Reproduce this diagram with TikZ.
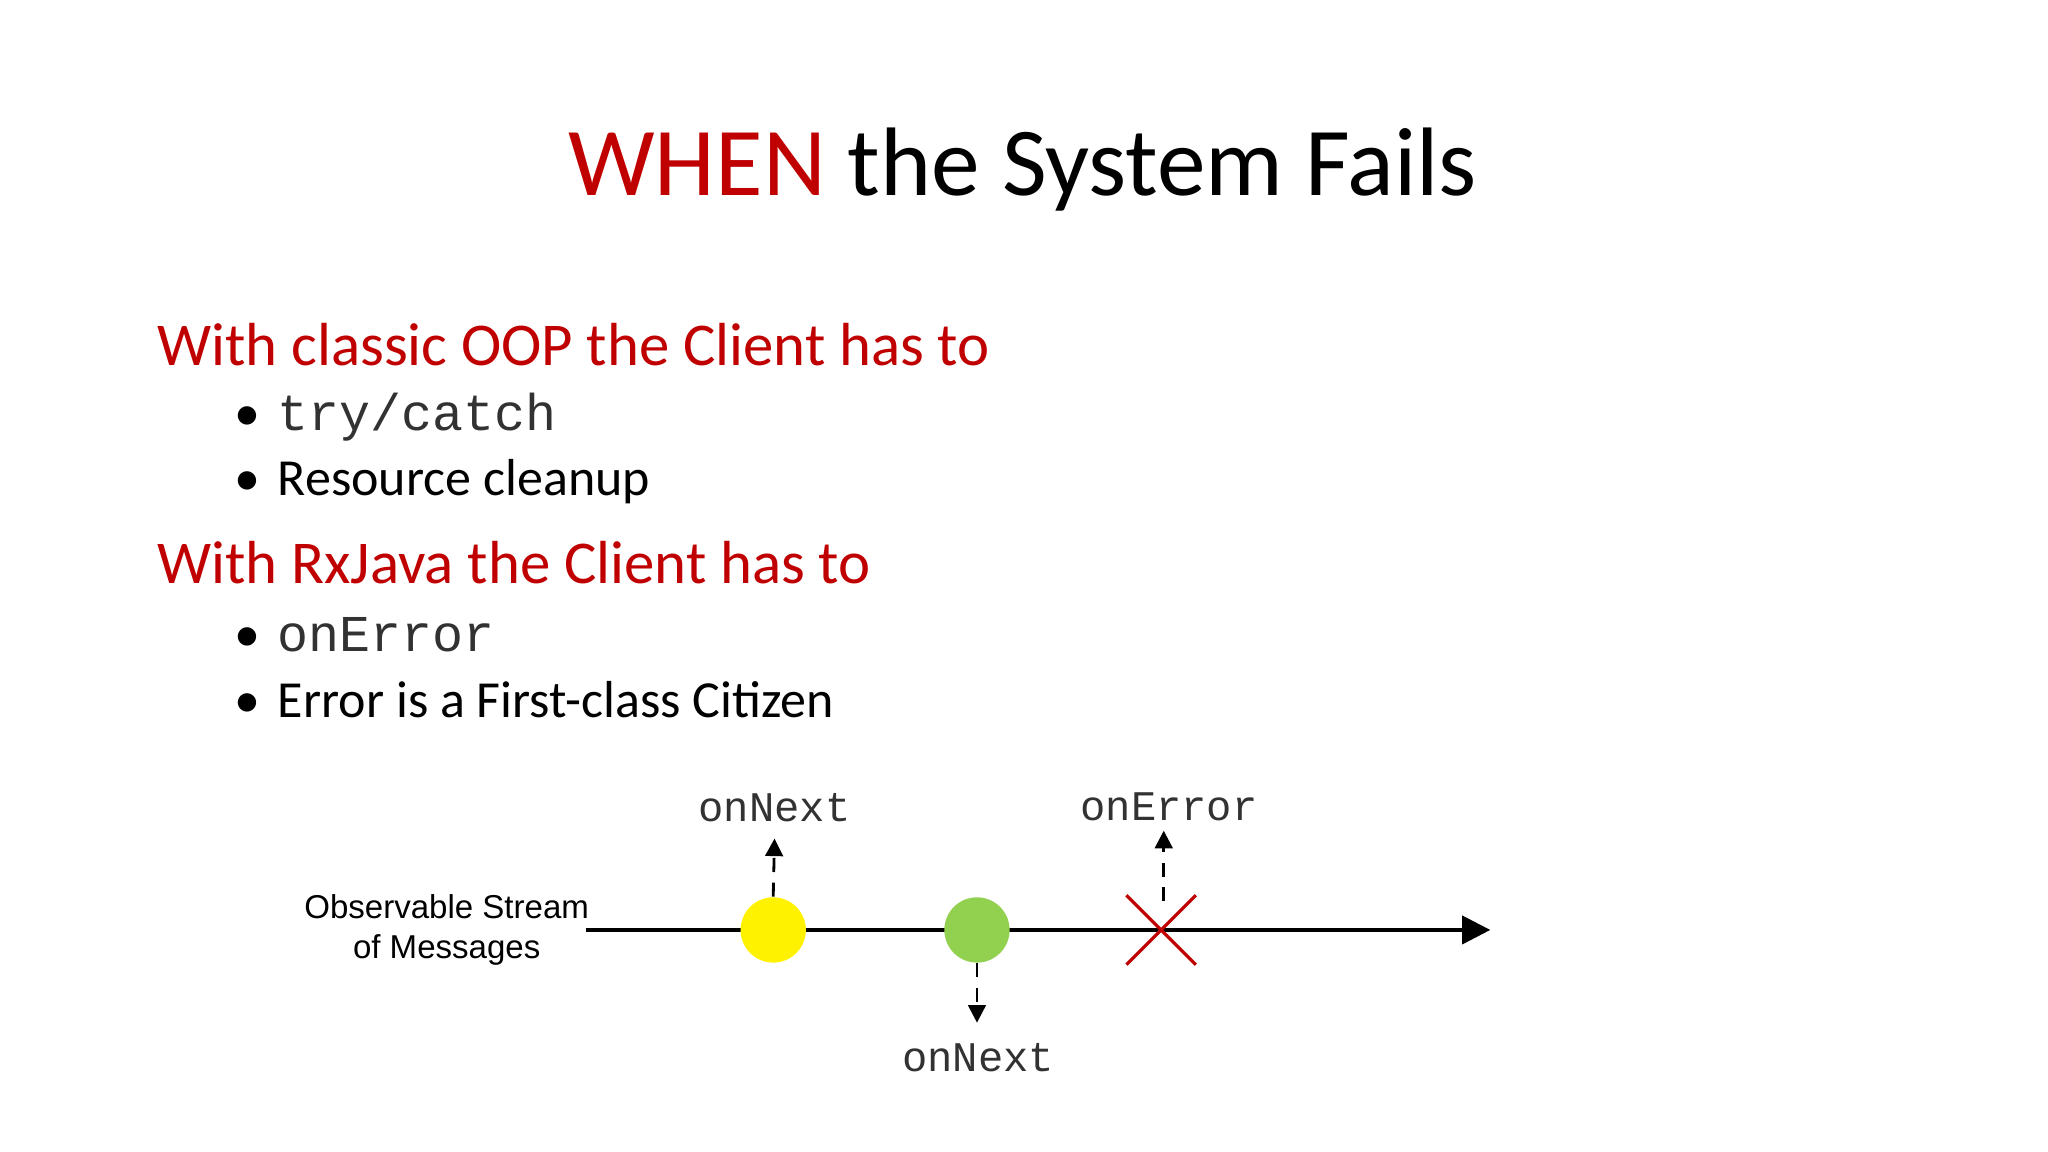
\documentclass[tikz,border=0pt]{standalone}
\usepackage{fontspec}
\setmainfont{Carlito}
\setmonofont{Liberation Mono}
\newfontfamily\arialf{Liberation Sans}
\usetikzlibrary{arrows.meta}
\definecolor{slred}{RGB}{192,0,0}
\definecolor{monog}{RGB}{50,50,50}
\tikzset{
  head/.style={anchor=west,text=slred,font=\fontsize{17.3}{20}\selectfont,inner sep=0},
  bul/.style={anchor=west,font=\fontsize{14.8}{18}\selectfont,inner sep=0},
  dlab/.style={font=\ttfamily\fontsize{12}{14}\selectfont,text=monog,inner sep=0},
  dasharrow/.style={dashed,dash pattern=on 4pt off 3pt,line width=0.8pt,-{Triangle[length=5pt,width=5pt]}},
}
\begin{document}
\begin{tikzpicture}[x=0.013061cm,y=-0.013061cm]
\fill[white] (0,0) rectangle (1568,882);
\useasboundingbox (0,0) rectangle (1568,882);
\node[font=\fontsize{27.7}{32}\selectfont,inner sep=0] (title) at (783,130) {\textcolor{slred}{WHEN} the System Fails};
\node[head] (h1) at (120,264) {With classic OOP the Client has to};
\node[bul] (b1) at (179,319) {•\hspace{5pt}{\ttfamily\fontsize{14.7}{18}\selectfont\color{monog}try/catch}};
\node[bul] (b2) at (179,369) {•\hspace{5pt}Resource cleanup};
\node[head] (h2) at (120,431) {With RxJava the Client has to};
\node[bul] (b3) at (179,486) {•\hspace{5pt}{\ttfamily\fontsize{14.7}{18}\selectfont\color{monog}onError}};
\node[bul] (b4) at (179,536) {•\hspace{5pt}Error is a First-class Citizen};
% diagram
\node[font=\arialf\fontsize{9.4}{11.5}\selectfont,align=center,inner sep=0] (obs) at (342,712) {Observable Stream\\ of Messages};
\coordinate (ls) at (449,712);
\coordinate (le) at (1141,712);
\draw[line width=1pt,-{Triangle[length=8pt,width=8pt]}] (ls) -- (le);
\node[circle,fill=yellow,inner sep=0,minimum size=0.653cm] (y) at (592,712) {};
\node[circle,fill={rgb,255:red,146;green,208;blue,80},inner sep=0,minimum size=0.653cm] (g) at (748,712) {};
\node[inner sep=0,minimum size=0.68cm] (x) at (889,712) {};
\draw[slred,line width=0.9pt] (x.north west) -- (x.south east) (x.north east) -- (x.south west);
\node[dlab] (n1) at (593,618) {onNext};
\node[dlab] (n2) at (749,810) {onNext};
\node[dlab] (n3) at (895,618) {onError};
\coordinate (a1) at (593,642);
\coordinate (a2) at (748,783);
\coordinate (a3) at (891,636);
\coordinate (xs) at (891,690);
\draw[dasharrow] (y.north) -- (a1);
\draw[dasharrow] (g.south) -- (a2);
\draw[dasharrow] (xs) -- (a3);
\end{tikzpicture}
\end{document}
